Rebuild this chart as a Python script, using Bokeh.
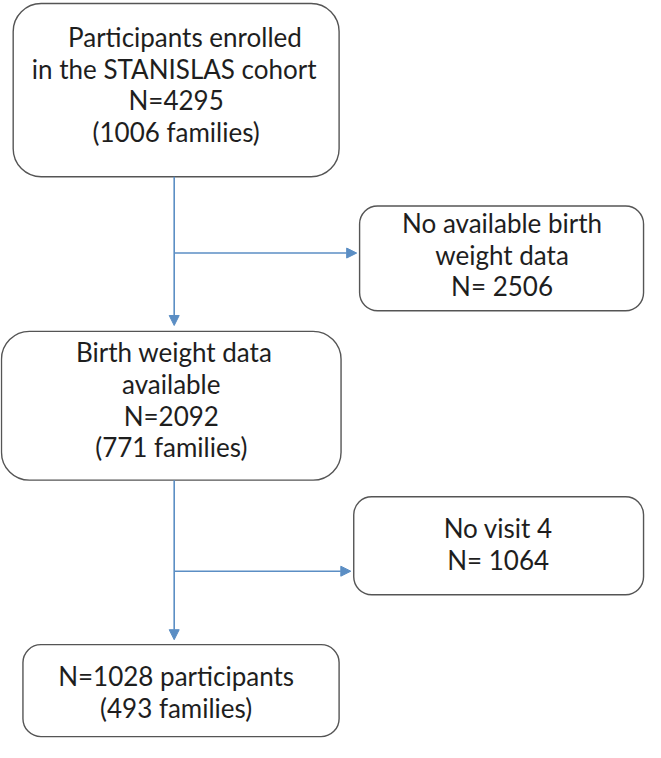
from bokeh.plotting import figure
from bokeh.models import Range1d, BoxAnnotation, Arrow, NormalHead
from bokeh.core.properties import value
from bokeh.embed import file_html
from bokeh.resources import INLINE

# ---- content (text of each box) ----
box1_lines = ["Participants enrolled", "in the STANISLAS cohort", "N=4295", "(1006 families)"]
box2_lines = ["No available birth", "weight data", "N= 2506"]
box3_lines = ["Birth weight data", "available", "N=2092", "(771 families)"]
box4_lines = ["No visit 4", "N= 1064"]
box5_lines = ["N=1028 participants", "(493 families)"]

# ---- layout (pixel frame of the reference, y downward) ----
boxes = [  # left, right, top, bottom, first text line y, text x per line
    dict(l=13, r=347, t=3, b=180, y0=37, xs=[189, 178, 180, 180], lines=box1_lines),
    dict(l=368, r=659, t=210, b=317, y0=227, xs=[514, 514, 514], lines=box2_lines),
    dict(l=1, r=349, t=338, b=490, y0=359, xs=[178, 175, 175, 175], lines=box3_lines),
    dict(l=362, r=659, t=507, b=607, y0=539, xs=[510, 510], lines=box4_lines),
    dict(l=23, r=347, t=658, b=752, y0=690, xs=[180, 180], lines=box5_lines),
]
line_gap = 32.5
trunk_x = 178
arrow_color = "#5b8ec4"

p = figure(width=645, height=742, output_backend="svg", toolbar_location=None,
           x_range=Range1d(0, 661), y_range=Range1d(758, 0), min_border=0)
p.axis.visible = False
p.grid.visible = False
p.outline_line_color = None
p.background_fill_color = "white"

for b in boxes:
    p.add_layout(BoxAnnotation(left=b["l"], right=b["r"], top=b["t"], bottom=b["b"],
                               fill_color="white", fill_alpha=1.0,
                               line_color="#555555", line_alpha=1.0, line_width=1.4,
                               border_radius=28 if b["b"] - b["t"] > 120 else 18,
                               level="underlay"))
    ys = [b["y0"] + i * line_gap for i in range(len(b["lines"]))]
    p.text(x=b["xs"], y=ys, text=b["lines"], text_align="center", text_baseline="middle",
           text_font=value("Lato"), text_font_size="26px", text_color="#1e1e1e")

# connectors
arrows = [
    (trunk_x, 180, trunk_x, 332),
    (trunk_x, 258, 365, 258),
    (trunk_x, 490, trunk_x, 653),
    (trunk_x, 583, 359, 583),
]
for x0, y0, x1, y1 in arrows:
    p.add_layout(Arrow(x_start=x0, y_start=y0, x_end=x1, y_end=y1,
                       line_color=arrow_color, line_width=1.6,
                       end=NormalHead(size=10, fill_color=arrow_color, line_color=arrow_color)))

open("out.html", "w").write(file_html(p, INLINE))
